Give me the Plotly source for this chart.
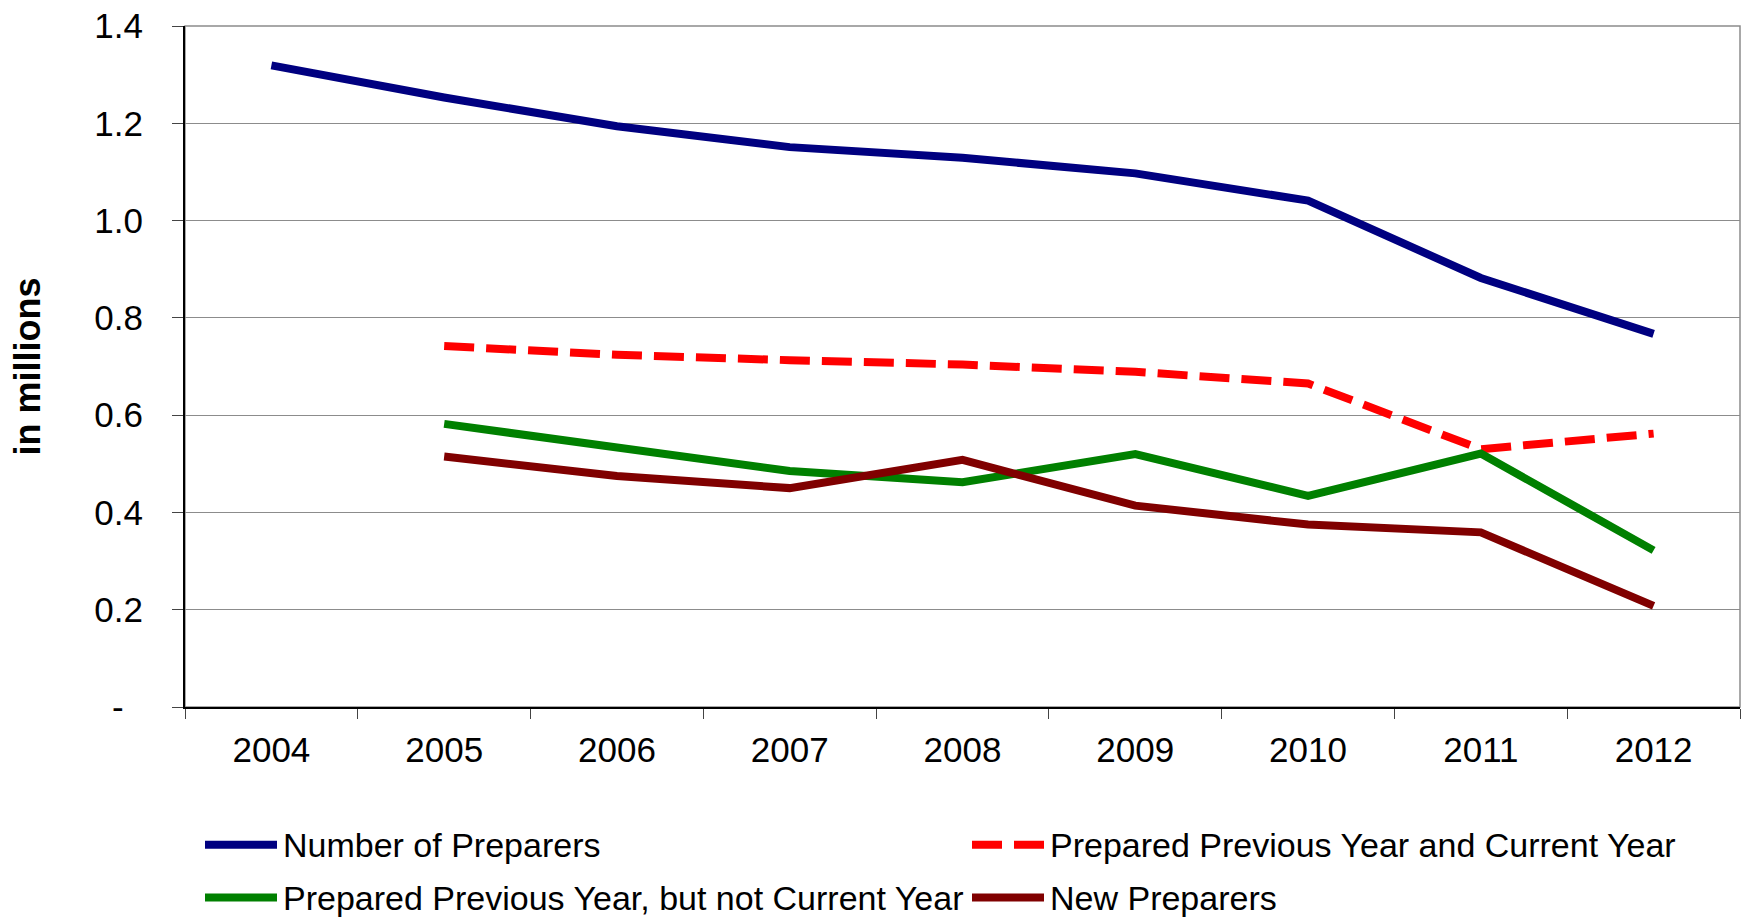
import plotly.graph_objects as go

# Tax return preparer counts, in millions
years = ["2004", "2005", "2006", "2007", "2008", "2009", "2010", "2011", "2012"]
number_of_preparers = [1.319, 1.253, 1.194, 1.151, 1.129, 1.097, 1.041, 0.882, 0.767]
prepared_prev_and_current = [None, 0.742, 0.724, 0.713, 0.704, 0.689, 0.665, 0.530, 0.562]
prepared_prev_not_current = [None, 0.582, 0.535, 0.485, 0.462, 0.520, 0.434, 0.521, 0.322]
new_preparers = [None, 0.515, 0.475, 0.450, 0.508, 0.414, 0.375, 0.359, 0.208]

y_tick_values = [0, 0.2, 0.4, 0.6, 0.8, 1.0, 1.2, 1.4]
y_tick_labels = ["-\u00a0\u00a0", "0.2", "0.4", "0.6", "0.8", "1.0", "1.2", "1.4"]

FONT = "Arial, 'Liberation Sans', sans-serif"
TICK_FS = 35
LEGEND_FS = 34
TITLE_FS = 36
LW = 8

series = [
    ("Number of Preparers", number_of_preparers, "#000080", "solid"),
    ("Prepared Previous Year and Current Year", prepared_prev_and_current, "#FF0000", "30px,12px"),
    ("Prepared Previous Year, but not Current Year", prepared_prev_not_current, "#008000", "solid"),
    ("New Preparers", new_preparers, "#800000", "solid"),
]

fig = go.Figure()
for name, values, color, dash in series:
    fig.add_trace(go.Scatter(
        x=years, y=values, name=name, mode="lines",
        line=dict(color=color, width=LW, dash=dash),
        connectgaps=False, showlegend=False,
    ))

# plot frame: grey on top/right, axes drawn black on left/bottom
shapes = [dict(type="rect", xref="paper", yref="paper", x0=0, x1=1, y0=0, y1=1,
               line=dict(color="#8c8c8c", width=1.5), layer="below")]

# legend drawn as two columns below the plot
W, H = 1555.0, 682.5
def px_x(v):
    return (v - 185) / W

def px_y(v):
    return (707 - v) / H

legend_slots = [(205, 845), (972, 845), (205, 898), (972, 898)]
annotations = []
for (name, _, color, dash), (lx, ly) in zip(series, legend_slots):
    shapes.append(dict(type="line", xref="paper", yref="paper",
                       x0=px_x(lx), x1=px_x(lx + 72), y0=px_y(ly), y1=px_y(ly),
                       line=dict(color=color, width=LW, dash=dash)))
    annotations.append(dict(xref="paper", yref="paper", x=px_x(lx + 76), y=px_y(ly),
                            xanchor="left", yanchor="middle", text=name, showarrow=False,
                            font=dict(family=FONT, size=LEGEND_FS, color="black")))

annotations.append(dict(xref="paper", yref="paper", x=px_x(27), y=0.5,
                        text="<b>in millions</b>", textangle=-90, showarrow=False,
                        xanchor="center", yanchor="middle",
                        font=dict(family=FONT, size=TITLE_FS, color="black")))

fig.update_layout(
    width=1746, height=918,
    margin=dict(l=185, r=6, t=24, b=211),
    paper_bgcolor="white", plot_bgcolor="white",
    font=dict(family=FONT, size=TICK_FS, color="black"),
    shapes=shapes, annotations=annotations,
    showlegend=False,
    xaxis=dict(
        type="category", range=[-0.5, 8.5],
        showline=True, linecolor="black", linewidth=2,
        ticks="outside", tickson="boundaries", ticklen=10, tickcolor="#444", tickwidth=1,
        showgrid=False, tickfont=dict(family=FONT, size=TICK_FS), ticklabelstandoff=11,
    ),
    yaxis=dict(
        range=[0, 1.4], tickvals=y_tick_values, ticktext=y_tick_labels,
        showline=True, linecolor="black", linewidth=2,
        ticks="outside", ticklen=11, tickcolor="#444", tickwidth=1,
        showgrid=True, gridcolor="#8c8c8c", gridwidth=1, zeroline=False,
        tickfont=dict(family=FONT, size=TICK_FS), ticklabelstandoff=22,
    ),
)

fig.write_html("out.html")
